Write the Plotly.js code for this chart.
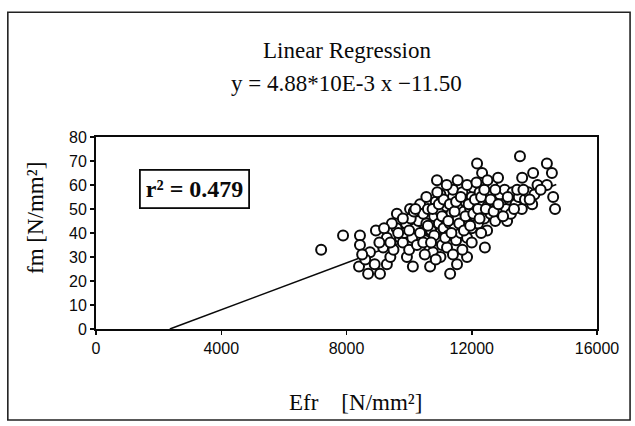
<!DOCTYPE html>
<html>
<head>
<meta charset="utf-8">
<script src="https://cdn.plot.ly/plotly-3.0.1.min.js"></script>
<style>html,body{margin:0;padding:0;background:#fff;}#chart{width:635px;height:426px;}</style>
</head>
<body>
<div id="chart"></div>
<script>
// Scatter data: Efr [N/mm²] vs fm [N/mm²]
const efr = [7190,7890,8430,8430,8400,8690,8750,8940,8600,8500,9070,8900,9170,9290,9290,9050,9400,9500,9610,9710,9600,9800,9930,9850,10030,10120,10000,10100,10200,10350,10250,10300,10400,10450,10500,10550,10600,10670,10650,10700,10760,10800,10850,10890,10900,10950,11000,11000,11050,11100,11150,11200,11210,11250,11300,11310,11350,11400,11400,11450,11500,11530,11550,11600,11650,11700,11700,11750,11800,11850,11850,11900,11950,12000,12000,12050,12100,12170,12150,12200,12250,12300,12330,12350,12420,12400,12490,12500,12550,12600,12650,12700,12750,12840,12800,12900,12950,13000,13050,13130,13100,13200,13250,13300,13400,13500,13540,13610,13600,13700,13800,13930,13960,14000,14100,14400,14560,14400,14600,14660,14200,
9900,10050,10150,10350,10450,10600,10750,10800,10950,11050,11100,11150,11250,11300,11450,11500,11600,11650,11750,11800,11900,11950,12050,12100,12200,12250,12300,12400,12450,12600,12700,12750,12850,13000,13150,13350,13450,13650,13850,10900,11200,11550,11850,12150,12500,10550,10200,9800,9450,9650,9200,9400,10000,10700,11350,11000,10850,10500,11700,12000,12300,11400];
const fm = [33,39,39,35,26,23,32,41,29,31,23,27,34,27,38,36,30,33,48,38,42,36,30,40,50,26,33,38,42,52,35,45,40,48,37,44,50,26,33,41,32,47,53,62,38,44,49,56,35,42,46,51,34,39,44,23,48,55,58,42,37,27,46,51,40,44,57,49,53,30,38,45,50,42,55,59,47,69,52,44,57,49,65,53,34,46,41,51,56,48,60,53,45,63,50,56,48,52,58,45,50,54,48,57,52,55,72,63,50,54,57,52,65,56,60,69,65,60,55,50,58,
44,46,49,40,36,43,50,39,52,47,54,38,45,52,49,53,44,55,41,47,52,43,48,54,50,46,55,58,50,54,49,58,52,47,55,50,58,58,54,57,60,62,60,61,62,55,50,46,44,40,42,36,41,36,40,30,29,31,33,36,40,31];

// Regression: y = 4.88e-3 x - 11.50
const slope = 4.88e-3;
const intercept = -11.50;
const lineXRange = [-intercept / slope, 14700];
const lineY = lineXRange.map(x => slope * x + intercept);

const xTicks = [0, 4000, 8000, 12000, 16000];
const yTicks = [0, 10, 20, 30, 40, 50, 60, 70, 80];

const titleLines = ['Linear Regression', 'y = 4.88*10E-3 x \u221211.50'];
const xTitle = 'Efr\u00a0\u00a0\u00a0\u00a0[N/mm\u00b2]';
const yTitle = 'fm\u00a0[N/mm\u00b2]';
const r2Text = '<b>r\u00b2 = 0.479</b>';

const serif = "Liberation Serif, Times New Roman, serif";
const sans = "Liberation Sans, Arial, sans-serif";
const ink = '#0a0a0a';

const traces = [
  {x: lineXRange, y: lineY, mode: 'lines', type: 'scatter',
   line: {color: ink, width: 1.6}, hoverinfo: 'skip', showlegend: false},
  {x: efr, y: fm, mode: 'markers', type: 'scatter',
   marker: {symbol: 'circle', size: 10, color: '#fff', line: {color: ink, width: 2}},
   showlegend: false}
];

const layout = {
  width: 635, height: 426,
  margin: {l: 96, r: 38, t: 137, b: 97},
  paper_bgcolor: '#fff', plot_bgcolor: '#fff',
  showlegend: false,
  xaxis: {range: [0, 16000], tickvals: xTicks, ticktext: xTicks.map(String),
          showgrid: false, zeroline: false, showline: true, mirror: true,
          linecolor: ink, linewidth: 2, ticks: 'outside', ticklen: 4, tickwidth: 1.5, tickcolor: ink,
          tickfont: {family: sans, size: 16, color: ink}},
  yaxis: {range: [0, 80], tickvals: yTicks, ticktext: yTicks.map(String),
          showgrid: false, zeroline: false, showline: true, mirror: true,
          linecolor: ink, linewidth: 2, ticks: 'outside', ticklen: 4, tickwidth: 1.5, tickcolor: ink,
          tickfont: {family: sans, size: 16, color: ink}},
  annotations: [
    {x: 0.5, y: (329 - 50) / 192, xref: 'paper', yref: 'paper', text: titleLines[0], showarrow: false,
     xanchor: 'center', yanchor: 'middle', font: {family: serif, size: 23, color: ink}},
    {x: 0.5, y: (329 - 84) / 192, xref: 'paper', yref: 'paper', text: titleLines[1], showarrow: false,
     xanchor: 'center', yanchor: 'middle', font: {family: serif, size: 23, color: ink}},
    {x: (355 - 96) / 501, y: (329 - 402) / 192, xref: 'paper', yref: 'paper', text: xTitle, showarrow: false,
     xanchor: 'center', yanchor: 'middle', font: {family: serif, size: 23, color: ink}},
    {x: (35 - 96) / 501, y: (329 - 218) / 192, xref: 'paper', yref: 'paper', text: yTitle, showarrow: false,
     textangle: -90, xanchor: 'center', yanchor: 'middle', font: {family: serif, size: 23, color: ink}},
    {x: 3130, y: 58.3, xref: 'x', yref: 'y', text: r2Text, showarrow: false,
     font: {family: serif, size: 24, color: ink}, bordercolor: ink, borderwidth: 1.8, borderpad: 5, bgcolor: '#fff'}
  ],
  shapes: [
    {type: 'rect', xref: 'paper', yref: 'paper', x0: -0.176, x1: 1.066, y0: -0.474, y1: 1.65,
     line: {color: '#222', width: 1.6}, fillcolor: 'rgba(0,0,0,0)', layer: 'below'}
  ]
};

Plotly.newPlot('chart', traces, layout, {displayModeBar: false, staticPlot: true});
</script>
</body>
</html>
